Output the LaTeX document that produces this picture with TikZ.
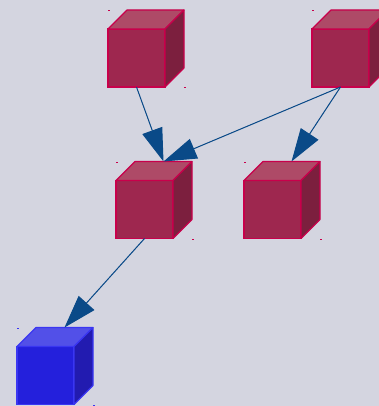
\documentclass[tikz,border=0pt]{standalone}
\usetikzlibrary{arrows.meta,calc}
\definecolor{bg}{HTML}{D4D5E0}
\definecolor{rfront}{HTML}{9E274F}
\definecolor{rtop}{HTML}{AE4A67}
\definecolor{rside}{HTML}{7C1F3E}
\definecolor{redge}{HTML}{C8004B}
\definecolor{bfront}{HTML}{2420DC}
\definecolor{btop}{HTML}{5250E8}
\definecolor{bside}{HTML}{221BB0}
\definecolor{bedge}{HTML}{3A36F2}
\definecolor{arr}{HTML}{0A4A88}
\tikzset{
  cubefront/.style={draw=#1, line width=1.1pt, minimum width=57pt, minimum height=58pt, inner sep=0pt, outer sep=0pt},
  link/.style={draw=arr, line width=1pt, -{Triangle[length=33pt,width=21pt]}, fill=arr},
}
% \mycube{name}{x}{y}{front}{top}{side}{edge}
\newcommand{\mycube}[7]{%
  \node[cubefront=#7, fill=#4] (#1) at (#2,#3) {};
  \fill[#5, draw=#7, line width=1.1pt, line join=round] (#1.north west) -- ++(19pt,19pt) -- ($(#1.north east)+(19pt,19pt)$) -- (#1.north east) -- cycle;
  \fill[#6, draw=#7, line width=1.1pt, line join=round] (#1.north east) -- ++(19pt,19pt) -- ($(#1.south east)+(19pt,19pt)$) -- (#1.south east) -- cycle;
  \coordinate (#1-t) at ($(#1.north)+(19pt,19pt)$);
  \fill[#7] ($(#1.north west)+(0pt,19pt)$) rectangle ++(1.5pt,-1.5pt);
  \fill[#7] ($(#1.south east)+(19pt,0pt)$) rectangle ++(1.5pt,-1.5pt);
}
\begin{document}
\begin{tikzpicture}[x=1pt,y=-1pt]
\fill[bg] (0,0) rectangle (379,406);
\useasboundingbox (0,0) rectangle (379,406);
\mycube{a}{136.5}{58}{rfront}{rtop}{rside}{redge}
\mycube{b}{340.5}{58}{rfront}{rtop}{rside}{redge}
\mycube{c}{144.5}{209.5}{rfront}{rtop}{rside}{redge}
\mycube{d}{272.5}{209.5}{rfront}{rtop}{rside}{redge}
\mycube{e}{45.5}{375.5}{bfront}{btop}{bside}{bedge}
\draw[link] (a.south) -- (c-t);
\draw[link] (b.south) -- (c-t);
\draw[link] (b.south) -- (d-t);
\draw[link] (c.south) -- (e-t);
\end{tikzpicture}
\end{document}
